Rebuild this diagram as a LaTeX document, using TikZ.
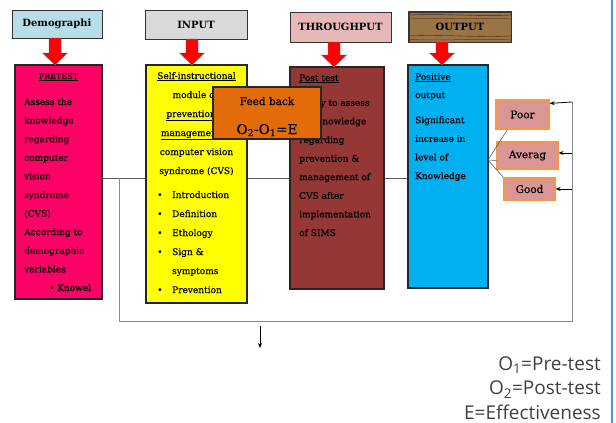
\documentclass[tikz,border=0pt]{standalone}
\usepackage{fontspec}
\setmainfont{DejaVu Serif}
\newfontfamily\boxfont[FakeBold=0.6]{DejaVu Serif}
\newfontfamily\legendfont{Open Sans}
\usetikzlibrary{arrows.meta,backgrounds,calc}
\definecolor{demoblue}{HTML}{B7DEE8}
\definecolor{inpgray}{HTML}{D9D9D9}
\definecolor{thrpink}{HTML}{E6B9B8}
\definecolor{woodbrown}{HTML}{9A7446}
\definecolor{wooddark}{HTML}{5E4122}
\definecolor{premag}{HTML}{FF0066}
\definecolor{inyellow}{HTML}{FFFF00}
\definecolor{thbrown}{HTML}{953735}
\definecolor{outblue}{HTML}{00B0F0}
\definecolor{fborange}{HTML}{E36C0A}
\definecolor{gradefill}{HTML}{D99694}
\definecolor{gradeedge}{HTML}{F79646}
\definecolor{frameblue}{HTML}{4F94CD}
\definecolor{legendgray}{HTML}{404040}
\definecolor{inktext}{HTML}{000000}
\newcommand\redarr[3]{\draw[redarrow] (#1-6,#2) -- (#1+6,#2) -- (#1+6,#3-12) -- (#1+12.5,#3-12) -- (#1,#3) -- (#1-12.5,#3-12) -- (#1-6,#3-12) -- cycle;}
\tikzset{
 hdr/.style={draw=black!80, line width=0.8pt, font=\bfseries\fontsize{10}{12}\selectfont, text=inktext, inner sep=0pt},
 mainbox/.style={draw=black!85, line width=1.2pt, inner sep=0pt},
 btxt/.style={inner sep=0pt, text=inktext, font=\boxfont\fontsize{9}{18.6}\selectfont, align=left},
 grade/.style={draw=gradeedge, line width=1.2pt, fill=gradefill, inner sep=0pt, font=\boxfont\fontsize{10.5}{12}\selectfont, text=inktext},
 redarrow/.style={fill=red, draw=black!60, line width=0.4pt},
 flowline/.style={draw=black!65, line width=0.7pt},
 loopline/.style={draw=black!45, line width=0.9pt},
 fanline/.style={draw=black!70, line width=0.5pt},
 tipline/.style={-{Stealth[length=5pt,width=4pt]}, draw=black, line width=0.8pt},
}
\begin{document}
\begin{tikzpicture}[x=1pt,y=-1pt]
\useasboundingbox (0,0) rectangle (616,423);
% headers
\node[hdr, fill=demoblue, minimum width=90, minimum height=28] (demo) at (57,24) {Demographi};
\node[hdr, fill=inpgray, minimum width=102, minimum height=29] (inph) at (196,24.5) {INPUT};
\node[hdr, fill=thrpink, minimum width=101, minimum height=30] (thrh) at (340.5,27) {THROUGHPUT};
\node[hdr, fill=woodbrown, minimum width=102, minimum height=30] (outh) at (460,27) {OUTPUT};
\begin{scope}
\clip (outh.south west) rectangle (outh.north east);
\draw[wooddark, line width=0.7pt] (409,15) .. controls (440,13) and (480,17) .. (511,15);
\draw[wooddark, line width=0.5pt] (409,18) .. controls (450,20) and (480,17) .. (511,19);
\draw[wooddark, line width=0.6pt] (409,36) .. controls (440,34) and (480,38) .. (511,36);
\draw[wooddark, line width=0.5pt] (409,39.5) .. controls (450,41) and (480,38) .. (511,40);
\end{scope}
\draw[black!80, line width=0.8pt] (outh.south west) rectangle (outh.north east);
% main boxes
\node[mainbox, fill=premag, minimum width=87, minimum height=234] (pre) at (58.5,182) {};
\node[mainbox, fill=inyellow, minimum width=101, minimum height=238] (inbox) at (196.5,184) {};
\node[mainbox, fill=thbrown, minimum width=94, minimum height=222] (thbox) at (337,178) {};
\node[mainbox, fill=outblue, minimum width=80, minimum height=223] (outbox) at (448,176.5) {};
% red arrows
\redarr{55}{38}{65}
\redarr{192}{39}{65}
\redarr{334}{42}{67}
\redarr{442}{42}{65}
% box texts (base anchor = baseline of the last line)
\node[btxt, anchor=base, font=\boxfont\fontsize{8}{10}\selectfont] (pretitle) at (58.5,79) {\underline{PRETEST}};
\node[btxt, anchor=base west] (prebody) at (24,291) {Assess the\\knowledge\\regarding\\computer\\vision\\syndrome\\(CVS)\\According to\\demographic\\variables\\\hspace{25pt}\makebox[8pt][l]{\textbullet}Knowel};
\node[btxt, align=center, anchor=base, font=\boxfont\fontsize{9}{19}\selectfont] (intitle) at (196.5,174) {\underline{Self-instructional}\\module on\\\underline{prevention \&}\\\underline{management of}\\computer vision\\syndrome (CVS)};
\node[btxt, anchor=base west, font=\boxfont\fontsize{9}{19}\selectfont] (inlist) at (157,293) {\makebox[15pt][l]{\textbullet}Introduction\\\makebox[15pt][l]{\textbullet}Definition\\\makebox[15pt][l]{\textbullet}Ethology\\\makebox[15pt][l]{\textbullet}Sign \&\\\hspace{15pt}symptoms\\\makebox[15pt][l]{\textbullet}Prevention};
\node[btxt, anchor=base west] (thtitle) at (299,81) {\underline{Post test}};
\node[btxt, anchor=base west] (thbody) at (299,236) {Study to assess\\the knowledge\\regarding\\prevention \&\\management of\\CVS after\\implementation\\of SIMS};
\node[btxt, anchor=base west, font=\boxfont\fontsize{9}{18}\selectfont] (outtitle) at (415,98) {\underline{Positive}\\output};
\node[btxt, anchor=base west] (outbody) at (415,179) {Significant\\increase in\\level of\\Knowledge};
% feedback
\node[draw=black!85, line width=1.2pt, fill=fborange, minimum width=108, minimum height=52, inner sep=0pt] (fb) at (267,113) {};
\node[inner sep=0pt, text=inktext, font=\boxfont\fontsize{10.5}{12}\selectfont, anchor=base] (fbt1) at (267,105) {Feed back};
\node[inner sep=0pt, text=inktext, font=\boxfont\fontsize{13.5}{15}\selectfont, anchor=base] (fbt2) at (267,134) {O\textsubscript{2}-O\textsubscript{1}=E};
% grades
\node[grade, minimum width=53, minimum height=29] (poor) at (522.5,114.5) {Poor};
\node[grade, minimum width=61, minimum height=27] (averag) at (527.5,155.5) {Averag};
\node[grade, minimum width=51, minimum height=22] (good) at (529.5,189) {Good};
% connectors
\coordinate (fan) at (488,160);
\coordinate (jl) at (119,178);
\coordinate (rb) at (572,321);
\coordinate (rt) at (572,102);
\coordinate (downs) at (260,326);
\coordinate (downe) at (260,348);
\begin{scope}[on background layer]
\draw[flowline] (pre.east |- jl) -- (outbox.west |- jl);
\draw[loopline] (jl) |- (rb) -- (rt);
\end{scope}
\draw[fanline] (fan) -- ([xshift=12pt]poor.south west);
\draw[fanline] (fan) -- ([yshift=-5pt]averag.west);
\draw[fanline] (fan) -- (good.north west);
\draw[tipline] (rt) -- ([yshift=-4pt]poor.north east);
\draw[tipline] (rt |- 0,153) -- (averag.east |- 0,153);
\draw[tipline] (rt |- 0,189) -- (good.east |- 0,189);
\draw[tipline] (downs) -- (downe);
% legend
\node[anchor=base east, inner sep=0pt, align=right, text=legendgray, font=\legendfont\fontsize{19}{24.5}\selectfont] (legend) at (601,419) {O\textsubscript{1}=Pre-test\\O\textsubscript{2}=Post-test\\E=Effectiveness};
% frame
\draw[frameblue, line width=2pt] (612,0) -- (612,423);
\end{tikzpicture}
\end{document}
